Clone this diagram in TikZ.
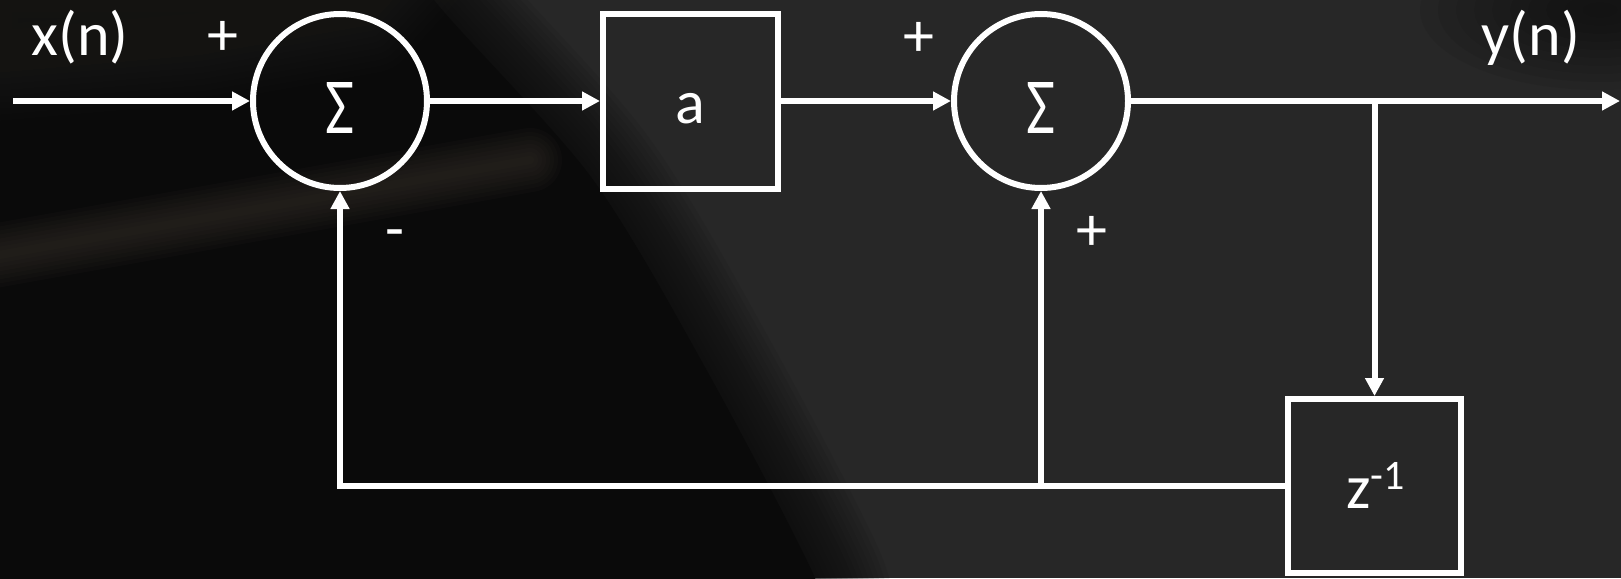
\documentclass[tikz,border=0pt]{standalone}
\usepackage{fontspec}
\setmainfont{Carlito}
\usepackage{graphicx}
\usetikzlibrary{arrows.meta,calc}
\definecolor{bggray}{HTML}{272727}
\definecolor{bgdark}{HTML}{0A0A0A}
\definecolor{bghaze}{HTML}{1D1C1A}
\definecolor{streak}{HTML}{3A342C}
\tikzset{
  sig/.style={draw=white, line width=3pt},
  arr/.style={sig, -{Triangle[length=9pt,width=9pt]}},
  sumnode/.style={circle, draw=white, line width=3pt, minimum size=87pt, inner sep=0pt},
  blk/.style={rectangle, draw=white, line width=3pt, inner sep=0pt},
  lbl/.style={text=white, font=\fontsize{31pt}{31pt}\selectfont, inner sep=0pt},
}
\begin{document}
\begin{tikzpicture}[x=0.5pt,y=-0.5pt]
\useasboundingbox (0,0) rectangle (1621,578);
% ---------- background ----------
\begin{scope}
\clip (0,0) rectangle (1621,578);
\fill[bggray] (0,0) rectangle (1621,578);
\foreach \i in {1,...,14}{
  \pgfmathsetmacro\lw{\i*5}
  \draw[bgdark, opacity=0.08, line width=\lw pt, line join=round]
    plot[smooth] coordinates {(425,-40) (434,0) (591,177) (706,369) (815,578) (825,640)};
}
\fill[bgdark] (-30,-40) -- plot[smooth] coordinates {(425,-40) (434,0) (591,177) (706,369) (815,578) (825,640)} -- (-30,640) -- cycle;
% haze top left
\foreach \i in {1,...,8}{
  \pgfmathsetmacro\lw{\i*6}
  \filldraw[bghaze, opacity=0.1, line width=\lw pt, line join=round]
    (-30,-30) -- (420,-30) -- (370,25) -- (200,55) -- (-30,75) -- cycle;
}
% light streak
\foreach \i in {1,...,8}{
  \pgfmathsetmacro\lw{\i*4}
  \draw[streak, opacity=0.09, line width=\lw pt, line cap=round] (-40,262) -- (530,160);
}
% top right darker patch
\foreach \i in {1,...,10}{
  \pgfmathsetmacro\rx{\i*18}
  \pgfmathsetmacro\ry{\i*8}
  \fill[bgdark, opacity=0.08] (1600,10) ellipse [x radius=\rx, y radius=\ry];
}
\end{scope}
% ---------- blocks ----------
\node[sumnode] (sum1) at (340,101) {};
\node[blk, minimum width=87.5pt, minimum height=87.5pt] (ablk) at (690.5,101) {};
\node[sumnode] (sum2) at (1041,101) {};
\node[blk, minimum width=86.5pt, minimum height=87pt] (zblk) at (1374.5,486) {};
% ---------- texts ----------
\node[lbl, anchor=base] (xlbl) at (80,55) {x(n)};
\node[lbl, anchor=base] (ylbl) at (1531,55) {y(n)};
\node[lbl] (p1) at (222.5,38) {+};
\node[lbl] (p2) at (919,39) {+};
\node[lbl] (p3) at (1092,233) {+};
\node[lbl] (m1) at (395,240) {-};
\node[lbl, anchor=base] (atxt) at (690,123) {a};
\node[lbl, anchor=base] (s1) at (339.5,133) {\resizebox{14.5pt}{25.5pt}{Σ}};
\node[lbl, anchor=base] (s2) at (1041,133) {\resizebox{14.5pt}{25.5pt}{Σ}};
\node[lbl, anchor=base] (ztxt) at (1375.5,508) {z\raisebox{9.5pt}{\fontsize{21pt}{21pt}\selectfont -1}};
% ---------- connectors ----------
\coordinate (in) at (13,101);
\coordinate (out) at (1620,101);
\coordinate (tap) at (zblk.north |- sum2.east);
\coordinate (fb) at (sum2.south |- zblk.west);
\draw[arr] (in) -- (sum1.west);
\draw[arr] (sum1.east) -- (ablk.west);
\draw[arr] (ablk.east) -- (sum2.west);
\draw[arr] (sum2.east) -- (out);
\draw[arr] (tap) -- (zblk.north);
\draw[arr] (zblk.west) -- (sum1.south |- zblk.west) -- (sum1.south);
\draw[arr] (fb) -- (sum2.south);
\end{tikzpicture}
\end{document}
